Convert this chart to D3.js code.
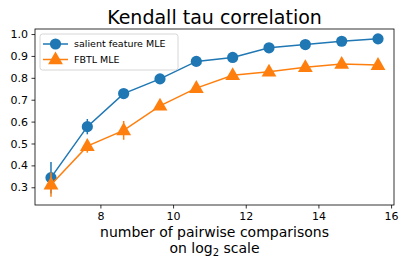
<!DOCTYPE html>
<html>
<head>
<meta charset="utf-8">
<script src="https://cdn.jsdelivr.net/npm/d3@7"></script>
<style>
  body { margin: 0; background: #fff; }
  text { font-family: "DejaVu Sans", sans-serif; fill: #000; }
</style>
</head>
<body>
<svg id="chart" width="409" height="273"></svg>
<script>
var margin = { left: 35, right: 15, top: 29, bottom: 68 };
var width = 409 - margin.left - margin.right;
var height = 273 - margin.top - margin.bottom;

var colorA = "#1f77b4";
var colorB = "#ff7f0e";

// x = log2 of number of pairwise comparisons
var xVals = [6.64, 7.64, 8.64, 9.64, 10.64, 11.64, 12.64, 13.64, 14.64, 15.64];
var salient = [0.344, 0.577, 0.728, 0.795, 0.875, 0.893, 0.937, 0.952, 0.967, 0.978];
var salientErr = [0.072, 0.035, 0.008, 0.008, 0.006, 0.006, 0.005, 0.004, 0.004, 0.003];
var fbtl = [0.312, 0.488, 0.560, 0.672, 0.753, 0.812, 0.828, 0.848, 0.863, 0.858];
var fbtlErr = [0.055, 0.03, 0.043, 0.01, 0.01, 0.008, 0.007, 0.006, 0.005, 0.005];
var xTicks = [8, 10, 12, 14, 16];
var yTicks = [0.3, 0.4, 0.5, 0.6, 0.7, 0.8, 0.9, 1.0];
var seriesNames = ["salient feature MLE", "FBTL MLE"];

var svg = d3.select("#chart");
var g = svg.append("g").attr("transform", "translate(" + margin.left + "," + margin.top + ")");

var x = d3.scaleLinear().domain([6.2, 16.08]).range([0, width]);
var y = d3.scaleLinear().domain([0.219, 1.023]).range([height, 0]);

// axes
var xAxis = g.append("g").attr("transform", "translate(0," + height + ")")
    .call(d3.axisBottom(x).tickValues(xTicks).tickSize(3.5).tickPadding(3.5).tickFormat(d3.format("d")));
var yAxis = g.append("g")
    .call(d3.axisLeft(y).tickValues(yTicks).tickSize(3.5).tickPadding(3.5).tickFormat(d3.format(".1f")));
[xAxis, yAxis].forEach(function (a) {
    a.select(".domain").remove();
    a.selectAll("text").style("font-size", "11px").style("font-family", "DejaVu Sans");
    a.selectAll("line").attr("stroke", "#000").attr("stroke-width", 0.8);
});

g.append("rect").attr("width", width).attr("height", height)
    .attr("fill", "none").attr("stroke", "#000").attr("stroke-width", 0.8);

var line = d3.line().x(function (d) { return x(d.x); }).y(function (d) { return y(d.y); });

function makeRows(vals, errs) {
    return xVals.map(function (v, i) { return { x: v, y: vals[i], e: errs[i] }; });
}

var triangle = d3.symbol().type(d3.symbolTriangle).size(95);

function drawSeries(rows, color, shape) {
    var s = g.append("g");
    s.selectAll(".err").data(rows).enter().append("line")
        .attr("x1", function (d) { return x(d.x); })
        .attr("x2", function (d) { return x(d.x); })
        .attr("y1", function (d) { return y(d.y - d.e); })
        .attr("y2", function (d) { return y(d.y + d.e); })
        .attr("stroke", color).attr("stroke-width", 1.5);
    s.append("path").datum(rows).attr("d", line)
        .attr("fill", "none").attr("stroke", color).attr("stroke-width", 1.5);
    if (shape === "circle") {
        s.selectAll(".pt").data(rows).enter().append("circle")
            .attr("cx", function (d) { return x(d.x); })
            .attr("cy", function (d) { return y(d.y); })
            .attr("r", 5.6).attr("fill", color);
    } else {
        s.selectAll(".pt").data(rows).enter().append("path")
            .attr("d", triangle)
            .attr("transform", function (d) { return "translate(" + x(d.x) + "," + (y(d.y) + 0.5) + ")"; })
            .attr("fill", color);
    }
}

drawSeries(makeRows(salient, salientErr), colorA, "circle");
drawSeries(makeRows(fbtl, fbtlErr), colorB, "triangle");

// legend
var lg = g.append("g").attr("transform", "translate(5,5)");
lg.append("rect").attr("width", 138).attr("height", 36).attr("rx", 2.5)
    .attr("fill", "#fff").attr("fill-opacity", 0.8).attr("stroke", "#ccc").attr("stroke-width", 0.8);
seriesNames.forEach(function (name, i) {
    var cy = 10 + i * 15.5;
    var c = i === 0 ? colorA : colorB;
    lg.append("line").attr("x1", 3).attr("x2", 28).attr("y1", cy).attr("y2", cy)
        .attr("stroke", c).attr("stroke-width", 1.5);
    if (i === 0) {
        lg.append("circle").attr("cx", 15.5).attr("cy", cy).attr("r", 5.6).attr("fill", c);
    } else {
        lg.append("path").attr("d", triangle).attr("transform", "translate(15.5," + (cy + 0.5) + ")").attr("fill", c);
    }
    lg.append("text").attr("x", 34).attr("y", cy).attr("dy", "0.35em")
        .style("font-size", "9.5px").text(name);
});

// title and labels
svg.append("text").attr("x", margin.left + width / 2).attr("y", 24)
    .attr("text-anchor", "middle").style("font-size", "19px").text("Kendall tau correlation");

var xl = svg.append("text").attr("x", margin.left + width / 2).attr("y", 237)
    .attr("text-anchor", "middle").style("font-size", "14px");
xl.append("tspan").text("number of pairwise comparisons");
var l2 = svg.append("text").attr("x", margin.left + width / 2).attr("y", 253)
    .attr("text-anchor", "middle").style("font-size", "14px");
l2.append("tspan").text("on log");
l2.append("tspan").attr("dy", 3).style("font-size", "10px").text("2");
l2.append("tspan").attr("dy", -3).text(" scale");
</script>
</body>
</html>
